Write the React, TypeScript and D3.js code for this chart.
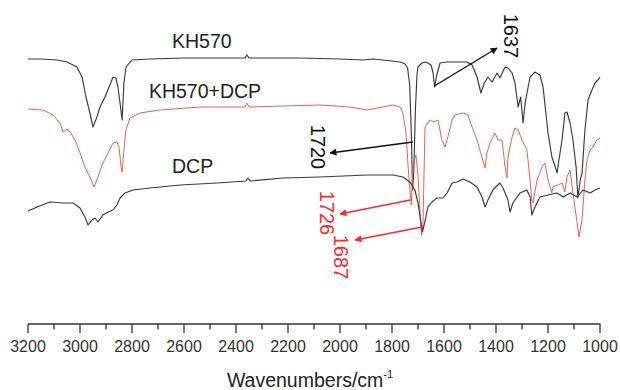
import React from "react";
import * as d3 from "d3";

// FTIR spectra (transmittance, offset arbitrary units) vs wavenumber (cm^-1)
const kh570Wn = [3200, 3150, 3088, 3050, 3012, 2992, 2977, 2962, 2950, 2935, 2923, 2904, 2885, 2873, 2862, 2854, 2845, 2838, 2831, 2823, 2800, 2731, 2600, 2400, 2365, 2358, 2350, 2154, 2000, 1912, 1873, 1800, 1769, 1750, 1740, 1732, 1726, 1721, 1716, 1710, 1704, 1700, 1685, 1673, 1662, 1650, 1642, 1636, 1628, 1615, 1588, 1538, 1512, 1492, 1473, 1458, 1445, 1431, 1415, 1396, 1385, 1365, 1354, 1338, 1327, 1315, 1305, 1296, 1288, 1269, 1250, 1231, 1219, 1200, 1185, 1172, 1165, 1158, 1146, 1135, 1127, 1115, 1104, 1092, 1085, 1076, 1069, 1058, 1046, 1031, 1019, 1008, 1000];
const kh570T = [265, 265, 264, 262, 257, 247, 227, 211, 197, 207, 217, 227, 239, 247, 246, 237, 219, 204, 241, 257, 264, 265, 266, 266, 266, 269, 266, 266, 265, 264, 265, 263, 262, 260, 256, 239, 194, 134, 154, 214, 249, 257, 261, 262, 261, 259, 251, 237, 249, 261, 262, 262, 262, 259, 247, 231, 241, 247, 242, 251, 246, 257, 256, 251, 241, 217, 227, 201, 221, 247, 252, 249, 237, 191, 167, 157, 151, 164, 184, 211, 212, 201, 184, 157, 126, 144, 151, 194, 224, 234, 241, 244, 247];

const mixWn = [3200, 3142, 3104, 3077, 3065, 3050, 3038, 3019, 3000, 2981, 2962, 2946, 2931, 2912, 2892, 2873, 2858, 2850, 2842, 2838, 2831, 2823, 2808, 2769, 2692, 2538, 2365, 2358, 2350, 2077, 1962, 1896, 1796, 1769, 1758, 1746, 1738, 1726, 1719, 1708, 1700, 1692, 1687, 1681, 1673, 1654, 1642, 1623, 1608, 1596, 1585, 1569, 1558, 1527, 1508, 1492, 1473, 1462, 1442, 1435, 1423, 1404, 1392, 1377, 1365, 1358, 1354, 1338, 1327, 1315, 1300, 1281, 1269, 1262, 1258, 1242, 1223, 1212, 1200, 1185, 1181, 1162, 1146, 1135, 1127, 1115, 1104, 1088, 1081, 1069, 1058, 1050, 1038, 1027, 1012, 1000];
const mixT = [215, 214, 209, 201, 192, 195, 192, 184, 171, 157, 147, 137, 147, 161, 171, 181, 182, 177, 157, 152, 174, 194, 206, 211, 214, 217, 217, 221, 217, 219, 217, 214, 219, 217, 211, 191, 157, 119, 159, 169, 149, 109, 89, 99, 197, 204, 202, 204, 184, 177, 187, 204, 209, 211, 209, 197, 184, 174, 156, 171, 181, 191, 184, 184, 157, 146, 167, 187, 196, 194, 184, 174, 144, 124, 121, 144, 157, 161, 144, 131, 137, 139, 141, 132, 147, 154, 131, 101, 87, 104, 144, 164, 174, 177, 184, 186];

const dcpWn = [3200, 3165, 3115, 3065, 3027, 3000, 2981, 2969, 2954, 2942, 2931, 2912, 2892, 2873, 2858, 2846, 2827, 2796, 2731, 2615, 2473, 2362, 2354, 2346, 2219, 2077, 1896, 1796, 1758, 1731, 1712, 1700, 1690, 1683, 1672, 1662, 1646, 1627, 1604, 1588, 1569, 1550, 1527, 1500, 1473, 1454, 1442, 1431, 1412, 1385, 1373, 1354, 1346, 1335, 1308, 1281, 1269, 1262, 1250, 1231, 1200, 1165, 1142, 1115, 1088, 1065, 1038, 1019, 1000];
const dcpT = [113, 117, 122, 121, 121, 116, 107, 99, 104, 106, 102, 109, 112, 114, 119, 126, 131, 134, 136, 139, 141, 143, 146, 143, 146, 147, 149, 149, 147, 142, 134, 121, 104, 92, 104, 117, 122, 126, 126, 131, 141, 142, 145, 142, 137, 127, 117, 124, 134, 141, 136, 124, 112, 121, 131, 134, 127, 109, 117, 127, 129, 131, 127, 131, 127, 134, 131, 134, 136];

const xTickLabels = ["3200", "3000", "2800", "2600", "2400", "2200", "2000", "1800", "1600", "1400", "1200", "1000"];

// Spectrum name labels: [text, wavenumber, value]
const seriesNames = ["KH570", "KH570+DCP", "DCP"];
const seriesLabelWn = [2646, 2735, 2646];
const seriesLabelT = [276, 226, 151];

// Peak annotations: label, peak wavenumber/value (arrow tail), arrow head, label centre
const peakLabels = ["1637", "1720", "1726", "1687"];
const peakWn = [1637, 1720, 1730, 1685];
const peakT = [238, 182, 124, 97];
const headWn = [1396, 2038, 2000, 1942];
const headT = [276, 171, 110, 84];
const textWn = [1342, 2085, 2050, 1996];
const textT = [288, 177, 111, 67];
const peakColors = ["#111", "#111", "#ff2b2b", "#ff2b2b"];

const W = 620;
const H = 390;
const FONT = "'Liberation Sans', Arial, Helvetica, sans-serif";

export default function App() {
  const x = d3.scaleLinear().domain([3200, 1000]).range([28, 600]);
  const y = d3.scaleLinear().domain([0, 300]).range([324, 24]);
  const axisY = y(0);

  const line = d3
    .line<[number, number]>()
    .x((d) => x(d[0]))
    .y((d) => y(d[1]));

  const zip = (a: number[], b: number[]) => a.map((v, i) => [v, b[i]] as [number, number]);

  const spectra = [
    { pts: zip(kh570Wn, kh570T), color: "#3a3a3a", w: 1.15 },
    { pts: zip(mixWn, mixT), color: "#f0614f", w: 1.0 },
    { pts: zip(dcpWn, dcpT), color: "#3a3a3a", w: 1.15 },
  ];

  const major = d3.range(3200, 999, -200);
  const minor = d3.range(3100, 1000, -200);

  return (
    <svg
      width={W}
      height={H}
      style={{ position: "absolute", left: 0, top: 0, background: "#fff" }}
      fontFamily={FONT}
    >
      <defs>
        {peakColors.map((c, i) => (
          <marker
            key={i}
            id={`ah${i}`}
            viewBox="0 0 10 10"
            refX="9"
            refY="5"
            markerWidth="10"
            markerHeight="7"
            markerUnits="userSpaceOnUse"
            orient="auto"
          >
            <path d="M0,0 L10,5 L0,10 z" fill={c} />
          </marker>
        ))}
      </defs>

      {spectra.map((s, i) => (
        <path
          key={i}
          d={line(s.pts) || ""}
          fill="none"
          stroke={s.color}
          strokeWidth={s.w}
          strokeLinejoin="round"
        />
      ))}

      {seriesNames.map((n, i) => (
        <text key={n} x={x(seriesLabelWn[i])} y={y(seriesLabelT[i])} fontSize={19.5} fill="#222">
          {n}
        </text>
      ))}

      {peakLabels.map((p, i) => (
        <g key={p}>
          <line
            x1={x(peakWn[i])}
            y1={y(peakT[i])}
            x2={x(headWn[i])}
            y2={y(headT[i])}
            stroke={peakColors[i]}
            strokeWidth={1.3}
            markerEnd={`url(#ah${i})`}
          />
          <text
            transform={`translate(${x(textWn[i])},${y(textT[i])}) rotate(90)`}
            textAnchor="middle"
            dominantBaseline="central"
            fontSize={20}
            fill={peakColors[i]}
          >
            {p}
          </text>
        </g>
      ))}

      {/* x axis */}
      <line x1={x(3200)} x2={x(1000) + 0.5} y1={axisY} y2={axisY} stroke="#333" strokeWidth={1.6} />
      {major.map((v) => (
        <line key={v} x1={x(v)} x2={x(v)} y1={axisY} y2={axisY + 9} stroke="#333" strokeWidth={1.3} />
      ))}
      {minor.map((v) => (
        <line key={v} x1={x(v)} x2={x(v)} y1={axisY} y2={axisY + 5.5} stroke="#333" strokeWidth={1.3} />
      ))}
      {major.map((v, i) => (
        <text key={v} x={x(v)} y={352} textAnchor="middle" fontSize={16} fill="#333">
          {xTickLabels[i]}
        </text>
      ))}
      <text x={310} y={387} textAnchor="middle" fontSize={19.5} fill="#222">
        Wavenumbers/cm
        <tspan dy={-9} fontSize={11}>-1</tspan>
      </text>
    </svg>
  );
}
